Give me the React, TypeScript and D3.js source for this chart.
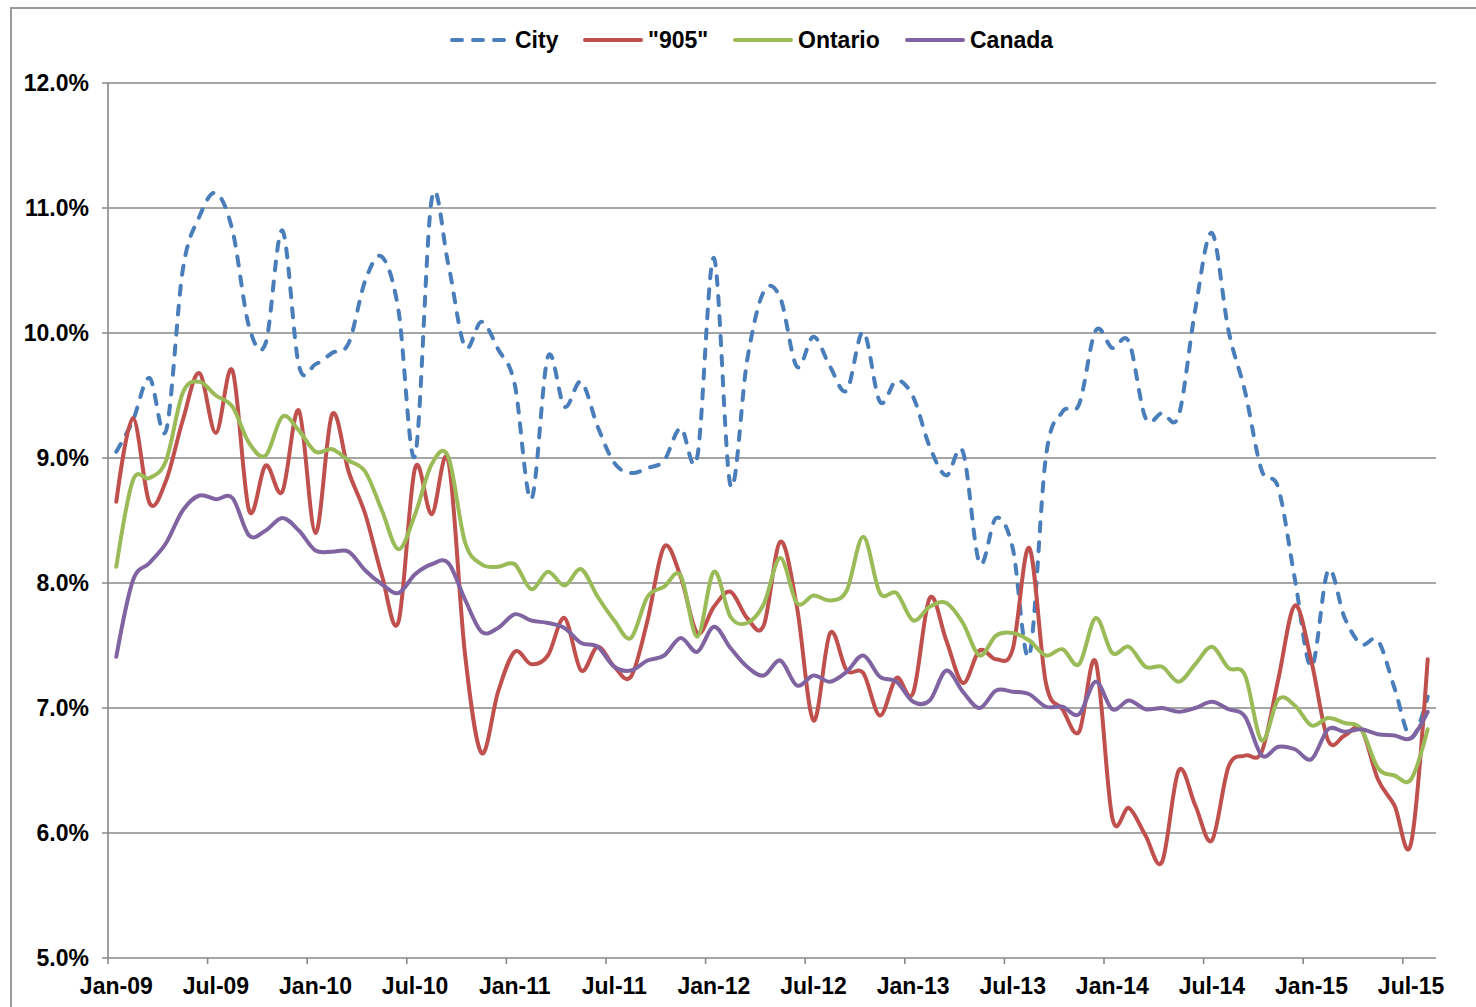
import React, { useRef, useEffect } from 'react';
import * as d3 from 'd3';

// monthly categories Jan-09 .. Aug-15
const months = d3.timeMonths(new Date(2009, 0, 1), new Date(2015, 8, 1));
const tickLabels = ['Jan-09', 'Jul-09', 'Jan-10', 'Jul-10', 'Jan-11', 'Jul-11', 'Jan-12', 'Jul-12', 'Jan-13', 'Jul-13', 'Jan-14', 'Jul-14', 'Jan-15', 'Jul-15'];
const yTicks = [5, 6, 7, 8, 9, 10, 11, 12];

const city = [
  9.05, 9.30, 9.64, 9.22, 10.50, 10.93, 11.12, 10.82, 10.05, 9.92, 10.82, 9.74, 9.75,
  9.84, 9.92, 10.42, 10.61, 10.18, 9.02, 11.07, 10.55, 9.89, 10.09, 9.87, 9.59, 8.67, 9.81,
  9.41, 9.61, 9.25, 8.96, 8.88, 8.92, 8.98, 9.24, 9.01, 10.60, 8.78, 9.78,
  10.33, 10.28, 9.73, 9.97, 9.73, 9.54, 10.01, 9.45, 9.62, 9.49, 9.09, 8.86, 9.05, 8.16,
  8.52, 8.28, 7.42, 9.01, 9.37, 9.43, 10.02, 9.88, 9.93, 9.32, 9.36, 9.34, 10.19, 10.80,
  10.02, 9.53, 8.90, 8.76, 8.03, 7.33, 8.10, 7.72, 7.51, 7.54, 7.16, 6.76, 7.09,
];
const gta905 = [
  8.65, 9.32, 8.64, 8.82, 9.30, 9.68, 9.20, 9.70, 8.58, 8.94, 8.73, 9.38, 8.40,
  9.35, 8.89, 8.55, 8.06, 7.69, 8.92, 8.55, 8.98, 7.44, 6.64, 7.13, 7.45, 7.35, 7.42,
  7.72, 7.30, 7.49, 7.33, 7.25, 7.70, 8.29, 8.05, 7.60, 7.81, 7.93, 7.72, 7.66,
  8.33, 7.81, 6.90, 7.60, 7.30, 7.28, 6.94, 7.24, 7.12, 7.88, 7.54, 7.20, 7.46,
  7.39, 7.47, 8.28, 7.20, 6.99, 6.81, 7.37, 6.12, 6.20, 5.98, 5.77, 6.50, 6.22, 5.94,
  6.53, 6.62, 6.65, 7.23, 7.82, 7.37, 6.74, 6.78, 6.83, 6.43, 6.22, 5.92, 7.39,
];
const ontario = [
  8.13, 8.82, 8.84, 8.98, 9.52, 9.61, 9.50, 9.41, 9.12, 9.02, 9.33, 9.22, 9.05,
  9.07, 8.98, 8.89, 8.58, 8.27, 8.55, 8.95, 9.01, 8.33, 8.15, 8.13, 8.15, 7.95, 8.09,
  7.98, 8.11, 7.89, 7.70, 7.56, 7.89, 7.97, 8.06, 7.57, 8.09, 7.73, 7.68, 7.83,
  8.20, 7.84, 7.90, 7.86, 7.94, 8.37, 7.92, 7.92, 7.70, 7.81, 7.84, 7.68, 7.42,
  7.58, 7.60, 7.54, 7.42, 7.47, 7.35, 7.72, 7.44, 7.49, 7.33, 7.33, 7.21, 7.35, 7.49,
  7.32, 7.26, 6.74, 7.07, 7.02, 6.86, 6.92, 6.88, 6.83, 6.52, 6.46, 6.43, 6.83,
];
const canada = [
  7.41, 8.02, 8.16, 8.32, 8.58, 8.70, 8.67, 8.68, 8.38, 8.42, 8.52, 8.42, 8.26,
  8.25, 8.25, 8.10, 7.99, 7.92, 8.07, 8.15, 8.16, 7.87, 7.61, 7.64, 7.75, 7.70, 7.68,
  7.64, 7.52, 7.49, 7.33, 7.30, 7.38, 7.42, 7.56, 7.45, 7.65, 7.48, 7.33, 7.26,
  7.38, 7.18, 7.26, 7.21, 7.29, 7.42, 7.25, 7.21, 7.05, 7.06, 7.30, 7.13, 7.00,
  7.14, 7.13, 7.11, 7.01, 7.01, 6.95, 7.21, 6.99, 7.06, 6.99, 7.00, 6.97, 7.00, 7.05,
  6.99, 6.93, 6.62, 6.69, 6.67, 6.59, 6.83, 6.81, 6.83, 6.79, 6.78, 6.76, 6.97,
];

const seriesNames = ['City', '"905"', 'Ontario', 'Canada'];
const seriesValues = [city, gta905, ontario, canada];
const seriesColors = ['#4a7ebb', '#c0504d', '#9bbb59', '#8064a2'];

function App() {
  const chartRef = useRef<SVGSVGElement>(null);

  useEffect(() => {
    const width = 1476;
    const height = 1007;
    const plot = { left: 108, right: 1436, top: 83, bottom: 958 };
    const font = '"Liberation Sans", Arial, sans-serif';
    const fontSize = '23px';

    const svg = d3.select(chartRef.current);
    svg.selectAll('*').remove();
    svg.attr('width', width).attr('height', height);

    svg.append('rect')
      .attr('width', width).attr('height', height).attr('fill', '#fff');

    // chart frame
    svg.append('rect')
      .attr('x', 11).attr('y', 8)
      .attr('width', width).attr('height', height)
      .attr('fill', 'none').attr('stroke', '#9a9a9a').attr('stroke-width', 2);

    const xScale = d3.scaleBand<number>()
      .domain(d3.range(months.length))
      .range([plot.left, plot.right])
      .padding(0);
    const xMid = (i: number) => (xScale(i) as number) + xScale.bandwidth() / 2;

    const yScale = d3.scaleLinear().domain([5, 12]).range([plot.bottom, plot.top]);

    // gridlines
    svg.append('g').selectAll('line')
      .data(yTicks)
      .enter().append('line')
      .attr('x1', plot.left - 6).attr('x2', plot.right)
      .attr('y1', d => yScale(d)).attr('y2', d => yScale(d))
      .attr('stroke', '#888').attr('stroke-width', 1.6);

    // y axis line
    svg.append('line')
      .attr('x1', plot.left).attr('x2', plot.left)
      .attr('y1', plot.top).attr('y2', plot.bottom)
      .attr('stroke', '#888').attr('stroke-width', 1.6);

    svg.append('g').selectAll('text')
      .data(yTicks)
      .enter().append('text')
      .attr('x', 89).attr('y', d => yScale(d))
      .attr('dy', '0.36em')
      .attr('text-anchor', 'end')
      .style('font-family', font).style('font-weight', 'bold').style('font-size', fontSize)
      .text(d => d3.format('.1f')(d) + '%');

    // x ticks every 6 months at band edges
    const tickIdx = d3.range(0, months.length, 6);
    svg.append('g').selectAll('line')
      .data(tickIdx)
      .enter().append('line')
      .attr('x1', d => xScale(d) as number).attr('x2', d => xScale(d) as number)
      .attr('y1', plot.bottom).attr('y2', plot.bottom + 6)
      .attr('stroke', '#888').attr('stroke-width', 1.6);

    svg.append('g').selectAll('text')
      .data(tickIdx)
      .enter().append('text')
      .attr('x', d => xMid(d)).attr('y', 994)
      .attr('text-anchor', 'middle')
      .style('font-family', font).style('font-weight', 'bold').style('font-size', fontSize)
      .text((d, i) => tickLabels[i]);

    // series
    const line = d3.line<number>()
      .x((d, i) => xMid(i))
      .y(d => yScale(d))
      .curve(d3.curveCardinal.tension(0));

    seriesValues.forEach((vals, k) => {
      svg.append('path')
        .datum(vals)
        .attr('d', line)
        .attr('fill', 'none')
        .attr('stroke', seriesColors[k])
        .attr('stroke-width', 4)
        .attr('stroke-linejoin', 'round')
        .attr('stroke-linecap', 'round')
        .attr('stroke-dasharray', k === 0 ? '9 11' : null);
    });

    // legend
    const legendX = [452, 585, 735, 907];
    const legend = svg.append('g');
    seriesNames.forEach((name, k) => {
      legend.append('line')
        .attr('x1', legendX[k]).attr('x2', legendX[k] + 56)
        .attr('y1', 40).attr('y2', 40)
        .attr('stroke', seriesColors[k]).attr('stroke-width', 4)
        .attr('stroke-linecap', 'round')
        .attr('stroke-dasharray', k === 0 ? '10 11' : null);
      legend.append('text')
        .attr('x', legendX[k] + 63).attr('y', 40)
        .attr('dy', '0.36em')
        .style('font-family', font).style('font-weight', 'bold').style('font-size', fontSize)
        .text(name);
    });
  }, []);

  return (
    <svg ref={chartRef} style={{ position: 'absolute', left: 0, top: 0, display: 'block' }}></svg>
  );
}

export default App;
